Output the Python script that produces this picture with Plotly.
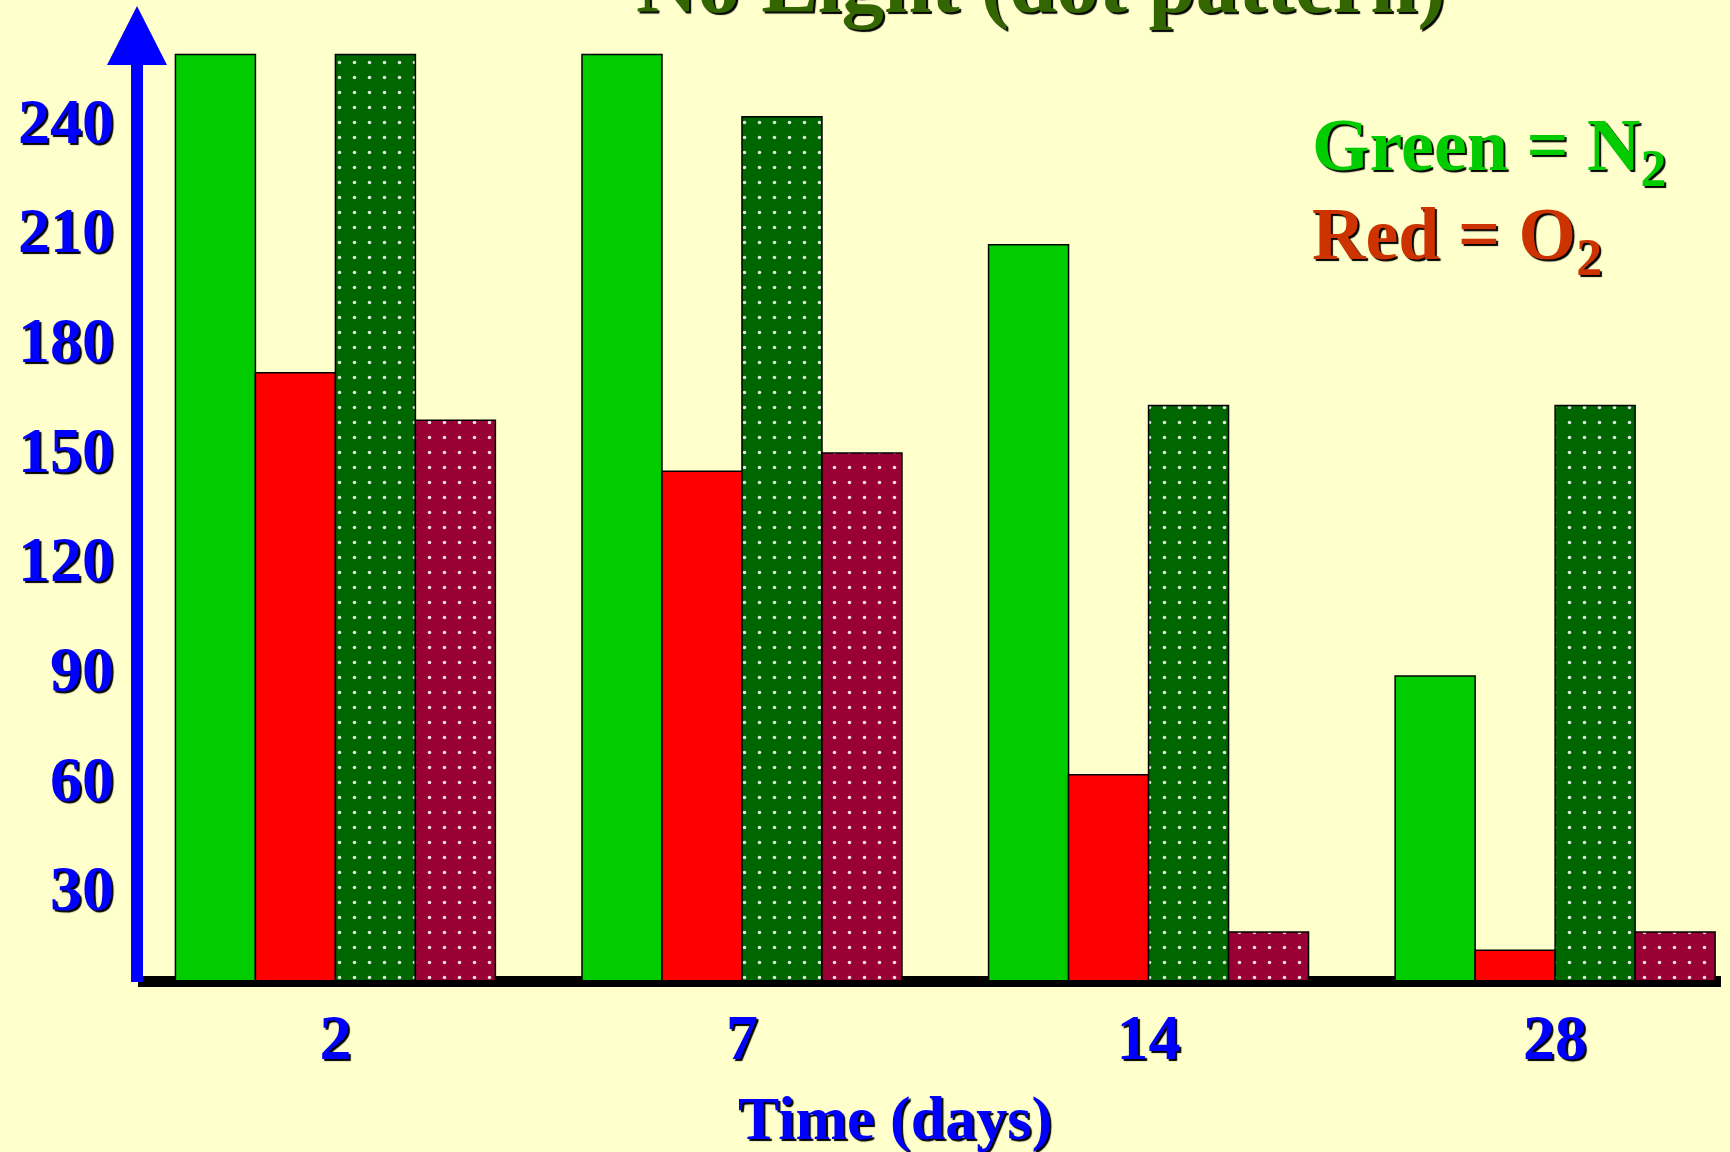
import plotly.graph_objects as go

# ---- data ----
days = ["2", "7", "14", "28"]
n2_light = [258, 258, 206, 88]
o2_light = [171, 144, 61, 13]
n2_dark = [258, 241, 162, 162]
o2_dark = [158, 149, 18, 18]
y_ticks = [30, 60, 90, 120, 150, 180, 210, 240]
y_tick_labels = ["30", "60", "90", "120", "150", "180", "210", "240"]

# ---- style ----
BG = "#FFFFCC"
FONT = "Liberation Serif, Times New Roman, serif"
SHADOW = "2px 2px 1px #000000"
W, H = 1730, 1152
ML, MR, MT, MB = 137, 9, 40, 172
PW, PH = W - ML - MR, H - MT - MB


def px_x(p):
    return (p - ML) / PW


def px_y(p):
    return (H - MB - p) / PH


def bar(name, vals, color, dotted):
    marker = dict(color=color, line=dict(color="#000000", width=1.5))
    if dotted:
        marker["pattern"] = dict(shape=".", fgcolor="#FFFFFF", bgcolor=color,
                                 size=15, solidity=0.045, fgopacity=0.85,
                                 fillmode="replace")
    return go.Bar(name=name, x=days, y=vals, marker=marker, showlegend=False)


fig = go.Figure()
fig.add_trace(bar("N2 (light)", n2_light, "#00CC00", False))
fig.add_trace(bar("O2 (light)", o2_light, "#FF0000", False))
fig.add_trace(bar("N2 (no light)", n2_dark, "#006600", True))
fig.add_trace(bar("O2 (no light)", o2_dark, "#990033", True))

tick_font = dict(family=FONT, size=64, color="#0000FF", weight="bold", shadow=SHADOW)

fig.update_layout(
    width=W, height=H,
    margin=dict(l=ML, r=MR, t=MT, b=MB, pad=0),
    paper_bgcolor=BG, plot_bgcolor="rgba(0,0,0,0)",
    barmode="group", bargap=0.213, bargroupgap=0,
    xaxis=dict(type="category", range=[-0.488, 3.408], showgrid=False,
               zeroline=False, showline=False, ticks="",
               tickfont=tick_font, ticklabelstandoff=14),
    yaxis=dict(range=[4.84, 262], tickvals=y_ticks, ticktext=y_tick_labels,
               showgrid=False, zeroline=False, showline=False, ticks="",
               tickfont=tick_font, ticklabelstandoff=22),
)

shapes = [
    # black baseline (below bars)
    dict(type="rect", xref="paper", yref="paper", x0=px_x(138), x1=px_x(1721),
         y0=px_y(987), y1=px_y(976), fillcolor="#000000", line=dict(width=0),
         layer="below"),
    # blue y-axis arrow shaft
    dict(type="rect", xref="paper", yref="paper", x0=px_x(131), x1=px_x(143),
         y0=px_y(982), y1=px_y(64), fillcolor="#0000FF", line=dict(width=0),
         layer="above"),
    # arrow head
    dict(type="path", xref="paper", yref="paper",
         path=f"M {px_x(107)} {px_y(65)} L {px_x(167)} {px_y(65)} L {px_x(137)} {px_y(6)} Z",
         fillcolor="#0000FF", line=dict(width=0), layer="above"),
]
fig.update_layout(shapes=shapes)

annotations = [
    dict(text="No Light (dot pattern)", xref="paper", yref="paper",
         x=px_x(1041), y=px_y(-16), xanchor="center", yanchor="middle",
         showarrow=False,
         font=dict(family=FONT, size=85, color="#336600", weight="bold", shadow=SHADOW)),
    dict(text="Green = N<sub>2</sub>", xref="paper", yref="paper",
         x=px_x(1310), y=px_y(150), xanchor="left", yanchor="middle",
         showarrow=False,
         font=dict(family=FONT, size=74, color="#00CC00", weight="bold", shadow=SHADOW)),
    dict(text="Red = O<sub>2</sub>", xref="paper", yref="paper",
         x=px_x(1310), y=px_y(240), xanchor="left", yanchor="middle",
         showarrow=False,
         font=dict(family=FONT, size=74, color="#CC3300", weight="bold", shadow=SHADOW)),
    dict(text="Time (days)", xref="paper", yref="paper",
         x=px_x(895), y=px_y(1118), xanchor="center", yanchor="middle",
         showarrow=False,
         font=dict(family=FONT, size=62, color="#0000FF", weight="bold", shadow=SHADOW)),
]
fig.update_layout(annotations=annotations)

fig.write_html("out.html", config={"displayModeBar": False},
               post_script="document.body.style.margin='0';")
